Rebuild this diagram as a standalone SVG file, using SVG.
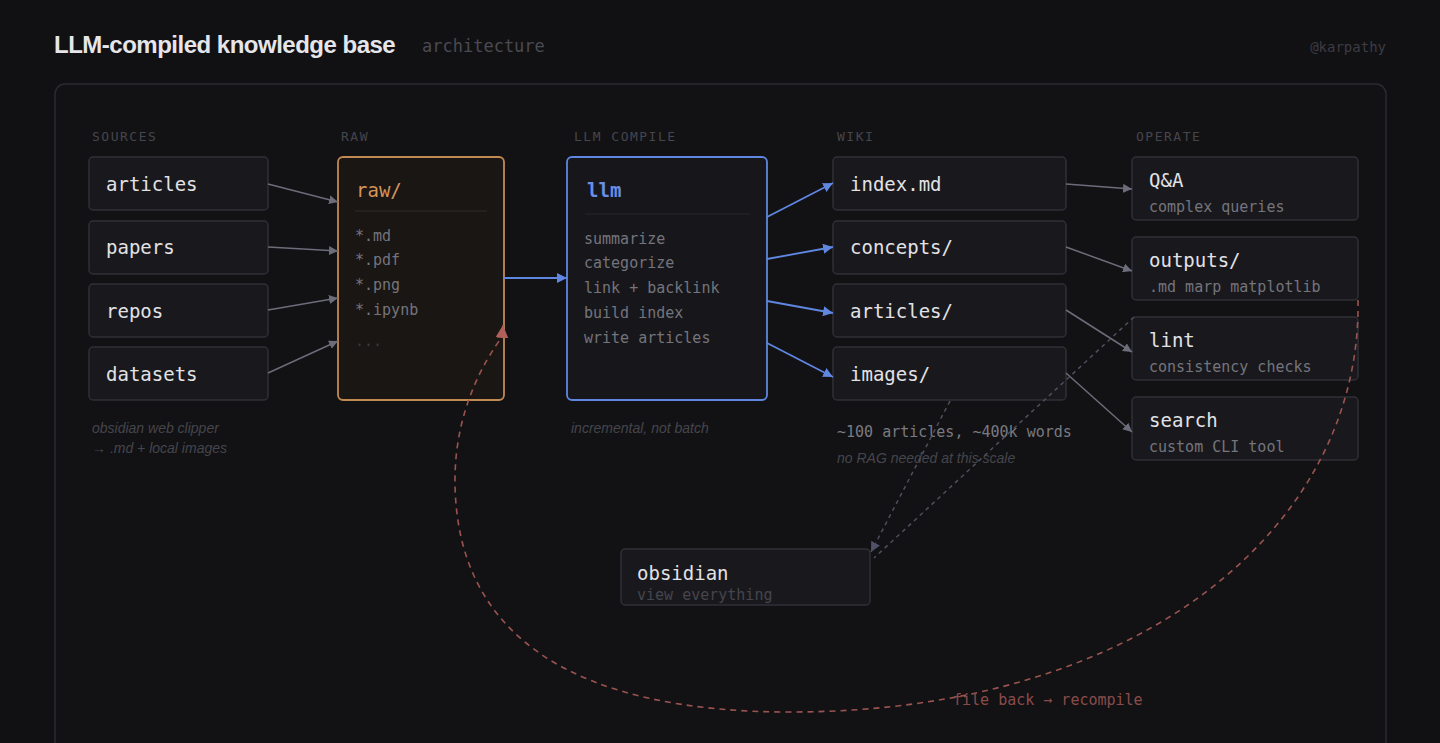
<svg xmlns="http://www.w3.org/2000/svg" width="1440" height="743" viewBox="0 0 1440 743">
<defs>
<style>
.mono{font-family:"DejaVu Sans Mono","Liberation Mono",monospace}
.sans{font-family:"Liberation Sans","Noto Sans",sans-serif}
.col{font-size:13px;fill:#45454d;letter-spacing:1.5px}
.box{fill:#19191d;stroke:#2f2f36;stroke-width:1.5}
.t{font-size:19px;fill:#e2e2e6}
.sub{font-size:15px;fill:#74747c}
.item{font-size:15px;fill:#74747c}
.cap{font-size:14px;fill:#45454d;font-style:italic}
.g{stroke:#6c6c7a;stroke-width:1.5;fill:none}
.b{stroke:#5f86e0;stroke-width:1.8;fill:none}
.d{stroke:#4e4e5c;stroke-width:1.5;fill:none;stroke-dasharray:4 4}
</style>
<marker id="ag" viewBox="0 0 10 10" refX="10" refY="5" markerWidth="9" markerHeight="9" markerUnits="userSpaceOnUse" orient="auto"><path d="M0,0 L10,5 L0,10 z" fill="#6c6c7a"/></marker>
<marker id="ab" viewBox="0 0 10 10" refX="10" refY="5" markerWidth="10" markerHeight="10" markerUnits="userSpaceOnUse" orient="auto"><path d="M0,0 L10,5 L0,10 z" fill="#5f86e0"/></marker>
<marker id="ad" viewBox="0 0 10 10" refX="10" refY="5" markerWidth="10" markerHeight="10" markerUnits="userSpaceOnUse" orient="auto"><path d="M0,0 L10,5 L0,10 z" fill="#50506a"/></marker>
<marker id="ar" viewBox="0 0 10 10" refX="10" refY="5" markerWidth="13" markerHeight="13" markerUnits="userSpaceOnUse" orient="auto"><path d="M0,0 L10,5 L0,10 z" fill="#b0605a"/></marker>
</defs>
<rect width="1440" height="743" fill="#111113"/>
<rect x="55" y="84" width="1331" height="700" rx="10" fill="#121214" stroke="#2a2a30" stroke-width="1.5"/>
<text x="54" y="53" class="sans" font-size="24" font-weight="bold" fill="#e6e6ea" letter-spacing="-0.5">LLM-compiled knowledge base</text>
<text x="422" y="52" class="mono" font-size="17" fill="#4a4a52">architecture</text>
<text x="1386" y="52" class="mono" font-size="14" fill="#3c3c44" text-anchor="end">@karpathy</text>
<g id="labels">
<text x="92" y="141" class="mono col">SOURCES</text>
<text x="341" y="141" class="mono col">RAW</text>
<text x="574" y="141" class="mono col">LLM COMPILE</text>
<text x="837" y="141" class="mono col">WIKI</text>
<text x="1136" y="141" class="mono col">OPERATE</text>
</g>
<g id="src-articles"><rect class="box" x="89" y="157" width="179" height="53" rx="4"/><text x="106" y="191" class="mono t">articles</text></g>
<g id="src-papers"><rect class="box" x="89" y="221" width="179" height="53" rx="4"/><text x="106" y="254" class="mono t">papers</text></g>
<g id="src-repos"><rect class="box" x="89" y="284" width="179" height="53" rx="4"/><text x="106" y="318" class="mono t">repos</text></g>
<g id="src-datasets"><rect class="box" x="89" y="347" width="179" height="53" rx="4"/><text x="106" y="381" class="mono t">datasets</text></g>
<text x="92" y="433" class="sans cap">obsidian web clipper</text>
<text x="92" y="453" class="sans cap">→ .md + local images</text>
<g id="raw">
<rect x="338" y="157" width="166" height="243" rx="5" fill="#1a1614" stroke="#c08a52" stroke-width="1.8"/>
<text x="356" y="197" class="mono" font-size="19" fill="#d4955a">raw/</text>
<line x1="355" y1="211" x2="487" y2="211" stroke="#2e2a27" stroke-width="1"/>
<text x="355" y="241" class="mono item">*.md</text>
<text x="355" y="265" class="mono item">*.pdf</text>
<text x="355" y="290" class="mono item">*.png</text>
<text x="355" y="315" class="mono item">*.ipynb</text>
<text x="355" y="346" class="mono" font-size="15" fill="#3c3a3c">...</text>
</g>
<g id="llm">
<rect x="567" y="157" width="200" height="243" rx="5" fill="#17171b" stroke="#5f86e0" stroke-width="1.8"/>
<text x="587" y="197" class="mono" font-size="19" font-weight="bold" fill="#6a8ee6">llm</text>
<line x1="585" y1="214" x2="750" y2="214" stroke="#26262c" stroke-width="1"/>
<text x="584" y="244" class="mono item">summarize</text>
<text x="584" y="268" class="mono item">categorize</text>
<text x="584" y="293" class="mono item">link + backlink</text>
<text x="584" y="318" class="mono item">build index</text>
<text x="584" y="343" class="mono item">write articles</text>
</g>
<text x="571" y="433" class="sans cap">incremental, not batch</text>
<g id="wiki-index"><rect class="box" x="833" y="157" width="233" height="53" rx="4"/><text x="850" y="191" class="mono t">index.md</text></g>
<g id="wiki-concepts"><rect class="box" x="833" y="221" width="233" height="53" rx="4"/><text x="850" y="254" class="mono t">concepts/</text></g>
<g id="wiki-articles"><rect class="box" x="833" y="284" width="233" height="53" rx="4"/><text x="850" y="318" class="mono t">articles/</text></g>
<g id="wiki-images"><rect class="box" x="833" y="347" width="233" height="53" rx="4"/><text x="850" y="381" class="mono t">images/</text></g>
<text x="837" y="437" class="mono" font-size="15" fill="#7a7a82">~100 articles, ~400k words</text>
<text x="837" y="463" class="sans cap">no RAG needed at this scale</text>
<g id="op-qa"><rect class="box" x="1132" y="157" width="226" height="63" rx="4"/><text x="1149" y="187" class="mono t">Q&amp;A</text><text x="1149" y="212" class="mono sub">complex queries</text></g>
<g id="op-outputs"><rect class="box" x="1132" y="237" width="226" height="63" rx="4"/><text x="1149" y="267" class="mono t">outputs/</text><text x="1149" y="292" class="mono sub">.md marp matplotlib</text></g>
<g id="op-lint"><rect class="box" x="1132" y="317" width="226" height="63" rx="4"/><text x="1149" y="347" class="mono t">lint</text><text x="1149" y="372" class="mono sub">consistency checks</text></g>
<g id="op-search"><rect class="box" x="1132" y="397" width="226" height="63" rx="4"/><text x="1149" y="427" class="mono t">search</text><text x="1149" y="452" class="mono sub">custom CLI tool</text></g>
<g id="obsidian"><rect class="box" x="621" y="549" width="249" height="56" rx="4"/><text x="637" y="580" class="mono t">obsidian</text><text x="637" y="600" class="mono" font-size="15" fill="#45454d">view everything</text></g>
<g id="connectors">
<line class="g" x1="268" y1="184" x2="338" y2="202" marker-end="url(#ag)"/>
<line class="g" x1="268" y1="247" x2="338" y2="251" marker-end="url(#ag)"/>
<line class="g" x1="268" y1="310" x2="338" y2="298" marker-end="url(#ag)"/>
<line class="g" x1="268" y1="373" x2="338" y2="341" marker-end="url(#ag)"/>
<line class="b" x1="504" y1="278" x2="567" y2="278" marker-end="url(#ab)"/>
<line class="b" x1="767" y1="217" x2="833" y2="183" marker-end="url(#ab)"/>
<line class="b" x1="767" y1="259" x2="833" y2="247" marker-end="url(#ab)"/>
<line class="b" x1="767" y1="301" x2="833" y2="313" marker-end="url(#ab)"/>
<line class="b" x1="767" y1="343" x2="833" y2="377" marker-end="url(#ab)"/>
<line class="g" x1="1066" y1="184" x2="1132" y2="189" marker-end="url(#ag)"/>
<line class="g" x1="1066" y1="247" x2="1132" y2="271" marker-end="url(#ag)"/>
<line class="g" x1="1066" y1="310" x2="1132" y2="352" marker-end="url(#ag)"/>
<line class="g" x1="1066" y1="373" x2="1132" y2="432" marker-end="url(#ag)"/>
<line class="d" x1="950" y1="401" x2="871" y2="552" marker-end="url(#ad)"/>
<line class="d" x1="1134" y1="317" x2="874" y2="558"/>
<path d="M1358,300 C1362,520 1150,712 790,712 C580,712 455,640 455,480 C455,410 485,360 502,337 L503,325" fill="none" stroke="#9a5450" stroke-width="1.6" stroke-dasharray="6 5" marker-end="url(#ar)"/>
<text x="953" y="705" class="mono" font-size="15" fill="#8a4c4a">file back → recompile</text>
</g>
</svg>
